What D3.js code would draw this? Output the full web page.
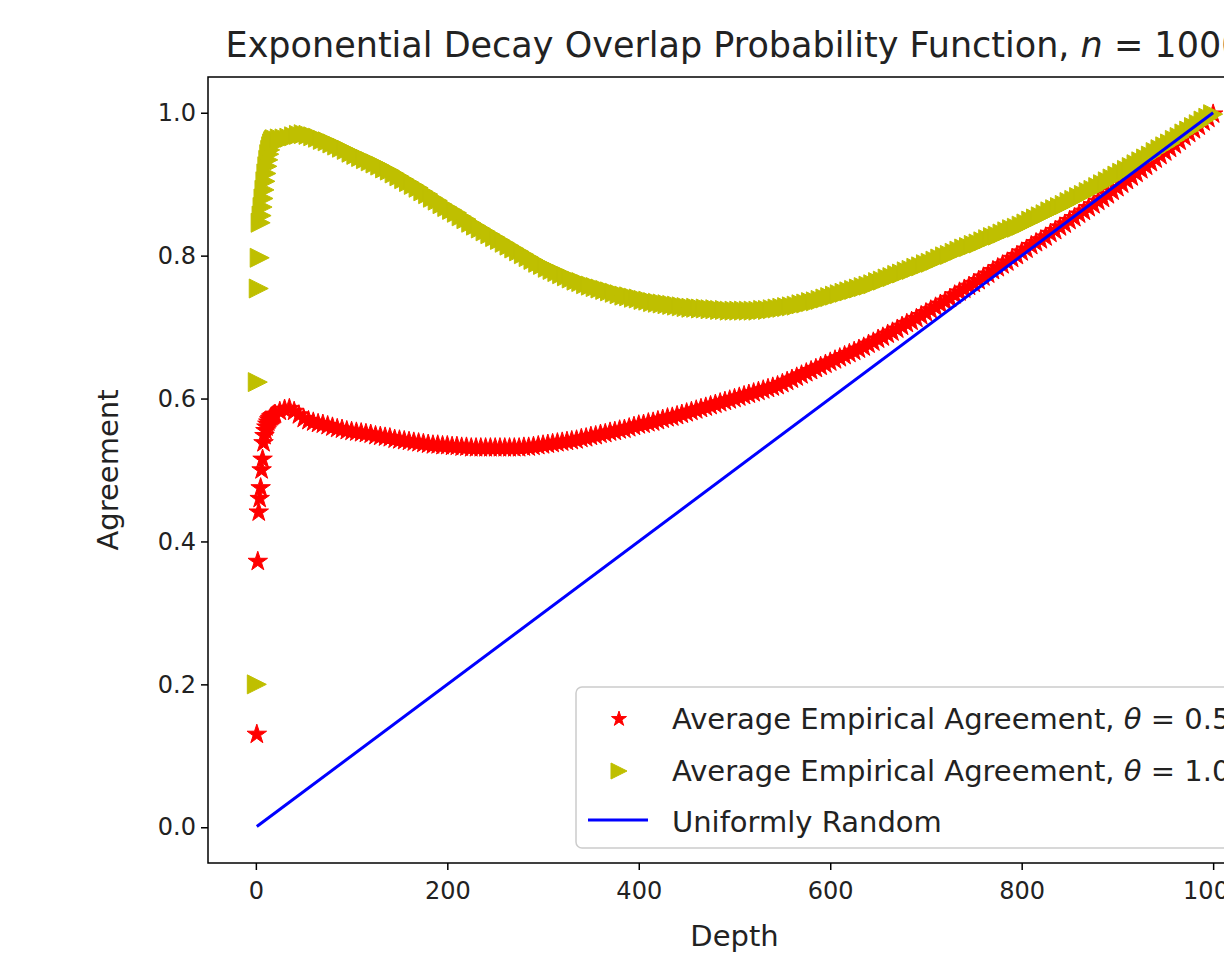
<!DOCTYPE html>
<html>
<head>
<meta charset="utf-8">
<script src="https://cdn.jsdelivr.net/npm/d3@7"></script>
<style>
  body { margin: 0; background: #fff; overflow: hidden; }
  text { font-family: "DejaVu Sans", sans-serif; fill: #222; }
</style>
</head>
<body>
<div id="chart"></div>
<script>
// data
let depths = [1, 2, 3, 4, 5, 6, 7, 8, 9, 10, 11, 12, 13, 14, 15, 16, 17, 18, 19, 20,
  25, 30, 35, 40, 45,
  50, 55, 60, 65, 70, 75, 80, 85, 90, 95,
  100, 105, 110, 115, 120, 125, 130, 135, 140, 145,
  150, 155, 160, 165, 170, 175, 180, 185, 190, 195,
  200, 205, 210, 215, 220, 225, 230, 235, 240, 245,
  250, 255, 260, 265, 270, 275, 280, 285, 290, 295,
  300, 305, 310, 315, 320, 325, 330, 335, 340, 345,
  350, 355, 360, 365, 370, 375, 380, 385, 390, 395,
  400, 405, 410, 415, 420, 425, 430, 435, 440, 445,
  450, 455, 460, 465, 470, 475, 480, 485, 490, 495,
  500, 505, 510, 515, 520, 525, 530, 535, 540, 545,
  550, 555, 560, 565, 570, 575, 580, 585, 590, 595,
  600, 605, 610, 615, 620, 625, 630, 635, 640, 645,
  650, 655, 660, 665, 670, 675, 680, 685, 690, 695,
  700, 705, 710, 715, 720, 725, 730, 735, 740, 745,
  750, 755, 760, 765, 770, 775, 780, 785, 790, 795,
  800, 805, 810, 815, 820, 825, 830, 835, 840, 845,
  850, 855, 860, 865, 870, 875, 880, 885, 890, 895,
  900, 905, 910, 915, 920, 925, 930, 935, 940, 945,
  950, 955, 960, 965, 970, 975, 980, 985, 990, 995,
  1000]

// theta = 0.5 (red stars)
let agreeHalf = [0.130, 0.372, 0.441, 0.460, 0.475, 0.500, 0.515, 0.538, 0.548, 0.555,
  0.560, 0.564, 0.567, 0.570, 0.572, 0.574, 0.575, 0.576, 0.577, 0.578,
  0.582, 0.585, 0.586, 0.582, 0.577,
  0.572, 0.569, 0.567, 0.565, 0.564, 0.562, 0.560, 0.558, 0.557, 0.555,
  0.554, 0.553, 0.552, 0.551, 0.550, 0.548, 0.547, 0.546, 0.545, 0.543,
  0.542, 0.541, 0.540, 0.539, 0.538, 0.537, 0.536, 0.535, 0.535, 0.534,
  0.534, 0.533, 0.533, 0.532, 0.532, 0.531, 0.531, 0.531, 0.531, 0.531,
  0.531, 0.531, 0.531, 0.531, 0.531, 0.531, 0.532, 0.532, 0.533, 0.534,
  0.535, 0.536, 0.537, 0.538, 0.539, 0.540, 0.541, 0.542, 0.544, 0.545,
  0.547, 0.548, 0.550, 0.551, 0.553, 0.554, 0.556, 0.557, 0.559, 0.561,
  0.563, 0.564, 0.566, 0.567, 0.569, 0.571, 0.573, 0.574, 0.576, 0.578,
  0.580, 0.582, 0.584, 0.586, 0.588, 0.590, 0.592, 0.594, 0.596, 0.598,
  0.600, 0.602, 0.604, 0.606, 0.608, 0.610, 0.612, 0.614, 0.616, 0.618,
  0.621, 0.624, 0.627, 0.630, 0.633, 0.636, 0.639, 0.642, 0.645, 0.648,
  0.651, 0.654, 0.657, 0.660, 0.663, 0.666, 0.669, 0.672, 0.676, 0.679,
  0.683, 0.686, 0.690, 0.693, 0.697, 0.701, 0.705, 0.708, 0.712, 0.716,
  0.720, 0.724, 0.728, 0.732, 0.736, 0.740, 0.745, 0.749, 0.753, 0.757,
  0.761, 0.765, 0.770, 0.774, 0.779, 0.783, 0.787, 0.791, 0.796, 0.800,
  0.805, 0.809, 0.814, 0.818, 0.822, 0.826, 0.831, 0.835, 0.840, 0.844,
  0.849, 0.853, 0.858, 0.862, 0.867, 0.871, 0.876, 0.880, 0.885, 0.890,
  0.895, 0.900, 0.905, 0.910, 0.915, 0.920, 0.925, 0.930, 0.935, 0.940,
  0.945, 0.950, 0.955, 0.960, 0.966, 0.971, 0.976, 0.981, 0.987, 0.992,
  0.998]

// theta = 1.0 (yellow triangles)
let agreeOne = [0.200, 0.623, 0.754, 0.797, 0.846, 0.856, 0.868, 0.880, 0.892, 0.904,
  0.915, 0.925, 0.934, 0.942, 0.948, 0.953, 0.957, 0.960, 0.962, 0.963,
  0.964, 0.964, 0.965, 0.967, 0.969,
  0.970, 0.969, 0.967, 0.965, 0.962, 0.960, 0.957, 0.954, 0.951, 0.948,
  0.944, 0.941, 0.938, 0.935, 0.932, 0.929, 0.926, 0.922, 0.919, 0.915,
  0.911, 0.907, 0.903, 0.899, 0.895, 0.890, 0.886, 0.881, 0.877, 0.872,
  0.868, 0.864, 0.860, 0.855, 0.851, 0.846, 0.842, 0.838, 0.834, 0.830,
  0.826, 0.822, 0.818, 0.814, 0.810, 0.806, 0.802, 0.798, 0.794, 0.790,
  0.787, 0.783, 0.780, 0.777, 0.774, 0.771, 0.768, 0.765, 0.763, 0.760,
  0.758, 0.756, 0.754, 0.752, 0.750, 0.748, 0.746, 0.744, 0.743, 0.741,
  0.740, 0.738, 0.737, 0.735, 0.734, 0.733, 0.732, 0.731, 0.730, 0.729,
  0.728, 0.727, 0.727, 0.726, 0.726, 0.725, 0.725, 0.724, 0.724, 0.723,
  0.723, 0.723, 0.723, 0.723, 0.723, 0.723, 0.724, 0.724, 0.725, 0.726,
  0.727, 0.728, 0.729, 0.730, 0.732, 0.733, 0.735, 0.736, 0.738, 0.740,
  0.742, 0.744, 0.746, 0.748, 0.750, 0.752, 0.754, 0.756, 0.758, 0.760,
  0.763, 0.765, 0.768, 0.770, 0.773, 0.775, 0.778, 0.780, 0.783, 0.785,
  0.788, 0.790, 0.793, 0.796, 0.799, 0.801, 0.804, 0.807, 0.810, 0.812,
  0.815, 0.817, 0.820, 0.823, 0.826, 0.828, 0.831, 0.834, 0.837, 0.839,
  0.842, 0.845, 0.849, 0.852, 0.855, 0.858, 0.862, 0.865, 0.868, 0.871,
  0.875, 0.878, 0.882, 0.885, 0.889, 0.892, 0.896, 0.900, 0.904, 0.908,
  0.912, 0.916, 0.920, 0.924, 0.928, 0.932, 0.936, 0.940, 0.945, 0.949,
  0.953, 0.957, 0.962, 0.966, 0.971, 0.975, 0.980, 0.984, 0.989, 0.993,
  0.998]

let uniformDepths = [1, 1000]
let uniformValues = [0.001, 1.0]

let xTicks = [0, 200, 400, 600, 800, 1000]
let yTicks = [0.0, 0.2, 0.4, 0.6, 0.8, 1.0]

// layout
let W = 1224, H = 959
let plot = {left: 208, top: 77, right: 1261, bottom: 863}

let svg = d3.select('div#chart')
  .append('svg')
    .attr('width', W)
    .attr('height', H)

let x = d3.scaleLinear().domain([-50, 1050]).range([plot.left, plot.right])
let y = d3.scaleLinear().domain([-0.05, 1.05]).range([plot.bottom, plot.top])

// axes
let xAxis = svg.append('g')
  .attr('transform', `translate(0, ${plot.bottom})`)
  .call(d3.axisBottom(x).tickValues(xTicks).tickSize(7).tickPadding(12).tickFormat(d3.format('d')))
let yAxis = svg.append('g')
  .attr('transform', `translate(${plot.left}, 0)`)
  .call(d3.axisLeft(y).tickValues(yTicks).tickSize(7).tickPadding(5).tickFormat(d3.format('.1f')))

for (let ax of [xAxis, yAxis]) {
  ax.select('.domain').remove()
  ax.selectAll('line').attr('stroke', '#000').attr('stroke-width', 1.5)
  ax.selectAll('text').attr('font-size', 24).attr('fill', '#222')
    .attr('font-family', '"DejaVu Sans", sans-serif')
}

// series
let red = depths.map((d, i) => ({d: d, v: agreeHalf[i]}))
let yel = depths.map((d, i) => ({d: d, v: agreeOne[i]}))

let star = d3.symbol().type(d3.symbolStar).size(118)
let triRight = 'M 9.5,0 L -9.5,-9.5 L -9.5,9.5 Z'

svg.append('g')
  .selectAll('path')
  .data(red)
  .enter().append('path')
    .attr('d', star)
    .attr('transform', p => `translate(${x(p.d)}, ${y(p.v)})`)
    .attr('fill', '#ff0000')
    .attr('stroke', '#ff0000')
    .attr('stroke-width', 1)

svg.append('g')
  .selectAll('path')
  .data(yel)
  .enter().append('path')
    .attr('d', triRight)
    .attr('transform', p => `translate(${x(p.d)}, ${y(p.v)})`)
    .attr('fill', '#bfbf00')
    .attr('stroke', '#bfbf00')
    .attr('stroke-width', 1)

let line = d3.line().x(d => x(d)).y((d, i) => y(uniformValues[i]))
svg.append('path')
  .attr('d', line(uniformDepths))
  .attr('fill', 'none')
  .attr('stroke', '#0000ff')
  .attr('stroke-width', 3)

// frame
svg.append('rect')
  .attr('x', plot.left)
  .attr('y', plot.top)
  .attr('width', plot.right - plot.left)
  .attr('height', plot.bottom - plot.top)
  .attr('fill', 'none')
  .attr('stroke', '#000')
  .attr('stroke-width', 1.5)

// legend
let lg = svg.append('g')
lg.append('rect')
  .attr('x', 576).attr('y', 687)
  .attr('width', 675).attr('height', 161)
  .attr('rx', 6)
  .attr('fill', 'rgba(255,255,255,0.8)')
  .attr('stroke', '#cccccc')
  .attr('stroke-width', 1.5)

lg.append('path')
  .attr('d', d3.symbol().type(d3.symbolStar).size(70))
  .attr('transform', 'translate(619, 719)')
  .attr('fill', '#ff0000').attr('stroke', '#ff0000')
lg.append('path')
  .attr('d', 'M 8,0 L -8,-8 L -8,8 Z')
  .attr('transform', 'translate(619, 771)')
  .attr('fill', '#bfbf00').attr('stroke', '#bfbf00')
lg.append('line')
  .attr('x1', 588).attr('x2', 648)
  .attr('y1', 820).attr('y2', 820)
  .attr('stroke', '#0000ff').attr('stroke-width', 3)

let legendLabels = [
  ['Average Empirical Agreement, ', '\u03b8', ' = 0.5'],
  ['Average Empirical Agreement, ', '\u03b8', ' = 1.0'],
  ['Uniformly Random']
]
legendLabels.forEach((parts, i) => {
  let t = lg.append('text')
    .attr('x', 672)
    .attr('y', 729 + i * 51.5)
    .attr('font-size', 29)
  t.append('tspan').text(parts[0])
  if (parts.length > 1) {
    t.append('tspan').attr('font-style', 'italic').text(parts[1])
    t.append('tspan').text(parts[2])
  }
})

// title and axis labels
let title = svg.append('text')
  .attr('x', (plot.left + plot.right) / 2)
  .attr('y', 57)
  .attr('text-anchor', 'middle')
  .attr('font-size', 35)
title.append('tspan').text('Exponential Decay Overlap Probability Function, ')
title.append('tspan').attr('font-style', 'italic').text('n')
title.append('tspan').text(' = 1000')

svg.append('text')
  .attr('x', (plot.left + plot.right) / 2)
  .attr('y', 946)
  .attr('text-anchor', 'middle')
  .attr('font-size', 29)
  .text('Depth')

svg.append('text')
  .attr('transform', `translate(118, ${(plot.top + plot.bottom) / 2}) rotate(-90)`)
  .attr('text-anchor', 'middle')
  .attr('font-size', 29)
  .text('Agreement')
</script>
</body>
</html>
